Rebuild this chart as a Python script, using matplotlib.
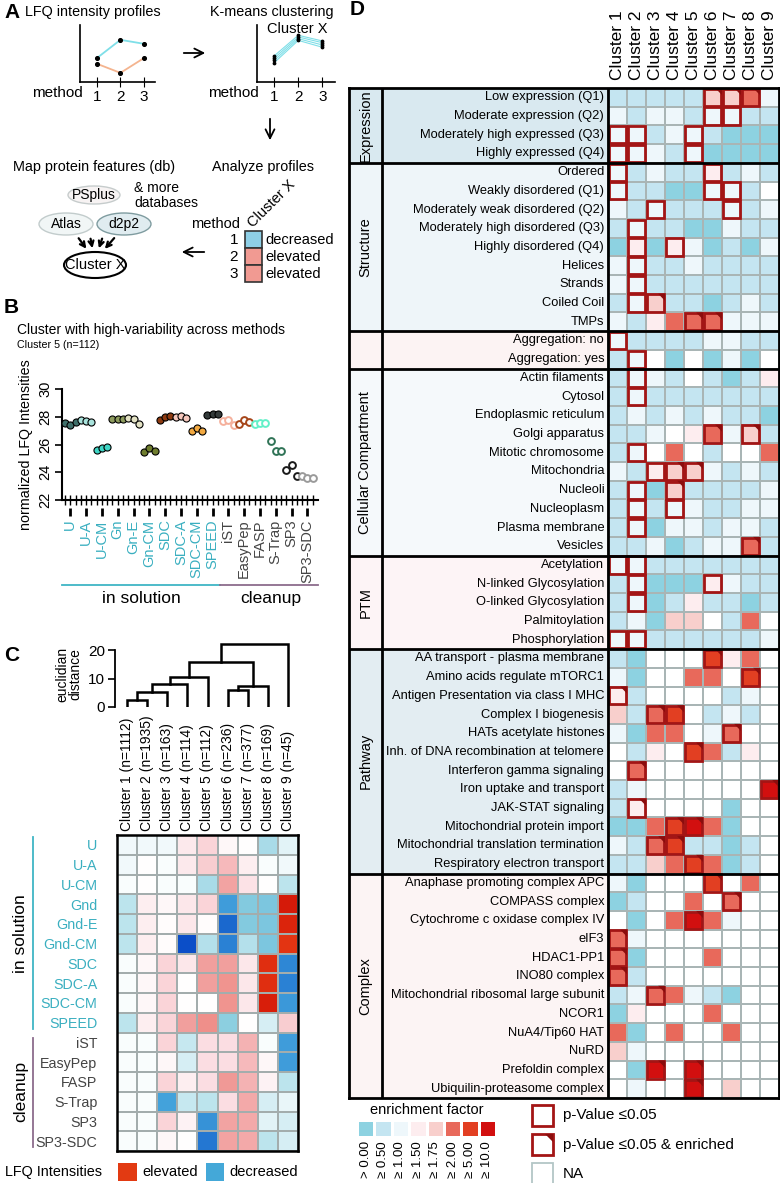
import numpy as np
import matplotlib
matplotlib.use("Agg")
import matplotlib.pyplot as plt
from matplotlib.patches import Rectangle, Ellipse, Polygon
from matplotlib.colors import LinearSegmentedColormap, ListedColormap, BoundaryNorm

plt.rcParams['font.family'] = ['Liberation Sans', 'DejaVu Sans']

# ---------------- panel A (schematic) ----------------
toy_methods = [1, 2, 3]
toy_up = [0.42, 0.74, 0.67]
toy_down = [0.32, 0.16, 0.42]
toy_cluster = [[0.46, 0.82, 0.72], [0.42, 0.79, 0.69],
               [0.38, 0.76, 0.65], [0.34, 0.73, 0.61]]
toy_states = ['decreased', 'elevated', 'elevated']
state_colors = {'decreased': '#8ecfe6', 'elevated': '#f19a92'}

# ---------------- panel B ----------------
methods_b = ['U', 'U-A', 'U-CM', 'Gn', 'Gn-E', 'Gn-CM', 'SDC', 'SDC-A', 'SDC-CM',
             'SPEED', 'iST', 'EasyPep', 'FASP', 'S-Trap', 'SP3', 'SP3-SDC']
lfq_b = [[27.54, 27.42, 27.59], [27.74, 27.66, 27.64], [25.62, 25.78, 25.81],
         [27.86, 27.86, 27.86], [27.90, 27.83, 27.47], [25.45, 25.78, 25.54],
         [27.78, 27.98, 28.07], [27.98, 28.02, 27.90], [26.94, 27.18, 26.99],
         [28.10, 28.19, 28.19], [27.70, 27.73, 27.42], [27.50, 27.74, 27.59],
         [27.50, 27.54, 27.54], [26.27, 25.54, 25.54], [24.17, 24.50, 23.76],
         [23.70, 23.55, 23.55]]
colors_b = ['#3f6f6a', '#a9e3dc', '#3fd6c6', '#8e9c5e', '#e3e2c4', '#6f7d2e',
            '#8e3a10', '#f6c8bd', '#f2a941', '#333a3a', '#f5b09c', '#a6461a',
            '#63f0c8', '#2f7356', '#1a1a1a', '#9a9a9a']
n_solution = 10

# ---------------- panel C ----------------
clusters_n = [1112, 1935, 163, 114, 112, 236, 377, 169, 45]
# merges: (left node, right node, height); new node ids start at 9
dendro_merges = [(0, 1, 2.5), (9, 2, 5.1), (10, 3, 8.0), (11, 4, 10.4),
                 (5, 6, 6.0), (13, 7, 7.5), (12, 14, 15.7), (15, 8, 22.0)]
methods_c = ['U', 'U-A', 'U-CM', 'Gnd', 'Gnd-E', 'Gnd-CM', 'SDC', 'SDC-A', 'SDC-CM',
             'SPEED', 'iST', 'EasyPep', 'FASP', 'S-Trap', 'SP3', 'SP3-SDC']
lfq_c = [
    [-0.1, -0.1, -0.1, 0.25, 0.5, 0.1, 0.0, -0.7, -0.2],
    [-0.1, 0.0, -0.05, 0.25, 0.6, 0.8, 0.2, -0.05, -0.1],
    [-0.05, 0.0, -0.05, -0.05, -0.7, 1.1, 0.35, 0.0, -0.5],
    [-0.5, 0.2, 0.1, 0.3, 0.5, -2.0, -1.1, -1.2, 3.0],
    [-0.5, 0.2, 0.05, 0.3, 0.05, -3.0, -1.1, -1.2, 2.8],
    [-0.5, 0.2, 0.05, -3.5, -0.6, -2.5, -0.6, -1.2, 2.5],
    [-0.05, 0.1, 0.5, 0.3, 1.2, 1.2, 0.3, 2.6, -2.4],
    [-0.05, 0.1, 0.5, 0.0, 1.2, 1.4, 0.3, 2.6, -2.5],
    [-0.05, 0.1, 0.5, 0.0, 0.0, 1.4, 0.3, 2.9, -2.1],
    [-0.5, 0.2, 0.5, 1.2, 1.5, -1.0, 0.0, -0.3, 0.6],
    [-0.05, -0.05, 0.5, -0.4, 0.4, 0.4, 0.9, -0.05, -2.0],
    [-0.05, -0.05, 0.1, -0.3, 0.4, 0.4, 0.8, 0.1, -2.0],
    [-0.05, -0.05, 0.5, 0.2, 0.4, 1.3, 0.9, 0.15, -0.5],
    [-0.05, -0.05, -1.9, -0.4, -0.5, 0.4, 1.0, -0.3, -0.15],
    [-0.05, -0.05, 0.5, 0.15, -2.2, 1.1, 1.0, -0.2, -0.3],
    [-0.05, -0.05, 0.1, 0.0, -2.7, 1.1, 1.0, -0.5, -0.3],
]

# ---------------- panel D ----------------
d_groups = ['Expression', 'Structure', '', 'Cellular Compartment', 'PTM', 'Pathway', 'Complex']
d_group_sizes = [4, 9, 2, 10, 5, 12, 12]
d_group_bg = ['#d9e9f0', '#eef5f9', '#fcf3f3', '#f5f9fb', '#fdf4f6', '#e3edf2', '#fcf4f4']
d_rows = [
    'Low expression (Q1)', 'Moderate expression (Q2)', 'Moderately high expressed (Q3)',
    'Highly expressed (Q4)',
    'Ordered', 'Weakly disordered (Q1)', 'Moderately weak disordered (Q2)',
    'Moderately high disordered (Q3)', 'Highly disordered (Q4)', 'Helices', 'Strands',
    'Coiled Coil', 'TMPs',
    'Aggregation: no', 'Aggregation: yes',
    'Actin filaments', 'Cytosol', 'Endoplasmic reticulum', 'Golgi apparatus',
    'Mitotic chromosome', 'Mitochondria', 'Nucleoli', 'Nucleoplasm', 'Plasma membrane',
    'Vesicles',
    'Acetylation', 'N-linked Glycosylation', 'O-linked Glycosylation', 'Palmitoylation',
    'Phosphorylation',
    'AA transport - plasma membrane', 'Amino acids regulate mTORC1',
    'Antigen Presentation via class I MHC', 'Complex I biogenesis',
    'HATs acetylate histones', 'Inh. of DNA recombination at telomere',
    'Interferon gamma signaling', 'Iron uptake and transport', 'JAK-STAT signaling',
    'Mitochondrial protein import', 'Mitochondrial translation termination',
    'Respiratory electron transport',
    'Anaphase promoting complex APC', 'COMPASS complex', 'Cytochrome c oxidase complex IV',
    'eIF3', 'HDAC1-PP1', 'INO80 complex', 'Mitochondrial ribosomal large subunit', 'NCOR1',
    'NuA4/Tip60 HAT', 'NuRD', 'Prefoldin complex', 'Ubiquilin-proteasome complex',
]
# enrichment level 0..7 (see d_level_labels), -1 = NA
d_levels = [
    [1, 1, 1, 1, 1, 4, 4, 5, 2], [2, 1, 2, 2, 1, 2, 2, 1, 1],
    [2, 2, 1, 2, 2, 1, 0, 0, 0], [2, 2, 2, 1, 2, 0, 0, 0, 0],
    [2, 1, 2, 1, 1, 3, 1, 2, 1], [2, 1, 1, 0, 0, 2, 2, 1, -1],
    [2, 1, 2, 1, 1, 1, 2, 1, 2], [1, 2, 1, 1, 0, 0, 2, 1, 1],
    [0, 3, 0, 3, 2, 0, 1, 0, 2], [2, 2, 1, 1, 2, 1, 1, 1, 1],
    [2, 2, 1, 1, 1, 1, 1, 1, 1], [1, 2, 4, 1, 1, 0, 1, 2, 1],
    [2, 1, 3, 5, 5, 5, 2, 2, 2],
    [2, 1, 1, 1, 1, 2, 2, 1, 1], [1, 2, -1, 0, -1, 0, 2, 0, -1],
    [1, 2, 2, 1, -1, 1, 0, 1, 3], [1, 2, 1, 1, 1, 1, 1, 1, 1],
    [1, 2, 1, 2, 1, 2, 1, 1, 0], [1, 1, 2, -1, 3, 5, 2, 4, 1],
    [1, 2, -1, 5, -1, 1, -1, -1, 5], [2, 1, 3, 4, 4, 2, 1, 2, 1],
    [1, 2, 0, 4, 1, 1, 1, 1, 2], [1, 2, 1, 2, 2, 1, 1, 2, 2],
    [1, 2, 0, 2, 2, 1, 2, 2, 1], [1, 1, 2, 0, 1, 2, 2, 5, 1],
    [2, 2, 1, 1, 1, 1, 1, 1, 1], [1, 2, 0, 0, 0, 3, 2, 1, 1],
    [1, 2, 0, 1, 3, 1, 1, 0, 1], [1, 2, 0, 4, 4, -1, 1, 5, -1],
    [2, 2, 1, 1, 1, 1, 1, 1, 2],
    [1, 0, -1, -1, -1, 6, 3, 5, -1], [2, 0, -1, -1, 5, 5, -1, 6, -1],
    [3, 1, -1, -1, -1, -1, 1, 2, -1], [4, 1, 5, 6, -1, 1, 2, 1, -1],
    [2, 0, 5, 5, -1, 2, 5, -1, -1], [-1, 1, 3, -1, 6, 5, 1, 3, -1],
    [-1, 5, -1, -1, -1, -1, -1, -1, -1], [1, 2, -1, -1, -1, -1, -1, -1, 7],
    [1, 3, -1, -1, -1, -1, 0, -1, -1], [0, 0, 5, 6, 7, 5, 0, -1, -1],
    [2, 1, 5, 6, 1, 1, 0, 1, -1], [1, 1, 4, 5, 6, 5, 0, 1, -1],
    [2, 0, -1, -1, -1, 6, -1, 5, -1], [0, 1, -1, -1, 5, -1, 5, -1, -1],
    [-1, 0, -1, 5, 7, 5, 2, -1, -1], [5, 2, -1, -1, -1, -1, -1, -1, -1],
    [5, 0, -1, -1, -1, 5, -1, -1, -1], [5, 1, -1, -1, -1, -1, -1, -1, -1],
    [1, 2, 5, 5, 2, 1, 0, -1, -1], [0, 3, -1, -1, -1, 5, -1, -1, -1],
    [5, 0, -1, 5, -1, -1, 5, -1, -1], [4, 2, -1, -1, -1, -1, -1, -1, -1],
    [-1, 0, 7, -1, 7, -1, -1, -1, -1], [-1, 2, -1, -1, 7, -1, 4, -1, -1],
]
# b = p-value <= 0.05, t = p-value <= 0.05 & enriched
d_marks = [
    '.....ttt.', '.....bb..', 'bb..b....', 'bb..b....',
    'b....b...', 'b....bb..', '..b...b..', '.b.......', '.b.b.....', '.b.......',
    '.b.......', '.bt......', '....tt...',
    'b........', '.b.......',
    '.b.......', '.b.......', '.........', '.....t.t.', '.b.......', '..btt....',
    '.b.t.....', '.b.b.....', '.b.......', '.......t.',
    'bb.......', '.b...b...', '.b.......', '.........', 'bb.......',
    '.....t...', '.......t.', 't........', '..tt.....', '......t..', '....t....',
    '.t.......', '........t', '.t.......', '...tt....', '..tt.....', '....t....',
    '.....t...', '......t..', '....t....', 't........', 't........', 't........',
    '..t......', '.........', '.........', '.........', '..t.t....', '....t....',
]
d_level_labels = ['> 0.00', '≥ 0.50', '≥ 1.00', '≥ 1.50', '≥ 1.75', '≥ 2.00', '≥ 5.00', '≥ 10.0']
d_level_colors = ['#8dd2e1', '#c4e5f1', '#eef7fb', '#fdedef', '#f8cfcc', '#e8695b', '#e23f22', '#d20f0f']

W, H = 780, 1183
fig = plt.figure(figsize=(W / 100, H / 100), dpi=100)


def px_axes(x0, y0, x1, y1):
    ax = fig.add_axes([x0 / W, 1 - y1 / H, (x1 - x0) / W, (y1 - y0) / H])
    ax.patch.set_alpha(0)
    return ax


cv = px_axes(0, 0, W, H)
cv.set_xlim(0, W)
cv.set_ylim(H, 0)
cv.axis('off')

MARK = '#a31515'
arrow = dict(arrowstyle='->', lw=1.3, color='black', mutation_scale=16)

# ================= A =================
cv.text(4, 12, 'A', fontsize=15, fontweight='bold', va='center')
cv.text(25, 12, 'LFQ intensity profiles', fontsize=10.4, va='center')
cv.text(210, 12, 'K-means clustering', fontsize=10.4, va='center')

ax_a1 = px_axes(80, 25, 155, 82)
ax_a1.plot(toy_methods, toy_up, color='#7fdfe8', lw=1.3)
ax_a1.plot(toy_methods, toy_down, color='#f4b48f', lw=1.3)
ax_a1.scatter(toy_methods * 2, toy_up + toy_down, s=7, color='black', zorder=3)
ax_a1.set_xlim(0.28, 3.47)

ax_a2 = px_axes(257, 25, 335, 82)
for prof in toy_cluster:
    ax_a2.plot(toy_methods, prof, color='#7fdfe8', lw=0.8)
    ax_a2.scatter(toy_methods, prof, s=3, color='black', zorder=3)
ax_a2.set_xlim(0.28, 3.53)
for ax in (ax_a1, ax_a2):
    ax.set_ylim(0, 1)
    ax.set_yticks([])
    ax.set_xticks(toy_methods)
    ax.tick_params(axis='x', direction='inout', length=7, labelsize=11, pad=2)
    for s in ('top', 'right'):
        ax.spines[s].set_visible(False)
    for s in ('left', 'bottom'):
        ax.spines[s].set_linewidth(1.2)
cv.text(83, 93, 'method', fontsize=11, ha='right', va='center')
cv.text(259, 93, 'method', fontsize=11, ha='right', va='center')
cv.text(297, 29, 'Cluster X', fontsize=10.5, ha='center', va='center')

cv.annotate('', xy=(208, 53), xytext=(181, 53), arrowprops=arrow)
cv.annotate('', xy=(270, 143), xytext=(270, 116), arrowprops=arrow)
cv.annotate('', xy=(179, 252), xytext=(207, 252), arrowprops=arrow)

cv.text(212, 167, 'Analyze profiles', fontsize=10.4, va='center')
cv.text(272, 204, 'Cluster X', fontsize=10.5, rotation=45, ha='center', va='center')
cv.text(240, 224, 'method', fontsize=10.5, ha='right', va='center')
for k, st in enumerate(toy_states):
    y0 = 231 + k * 17.2
    cv.add_patch(Rectangle((245, y0), 17, 16.5, fc=state_colors[st], ec='#333333', lw=1.2))
    cv.text(238, y0 + 8.5, str(toy_methods[k]), fontsize=11, ha='right', va='center')
    cv.text(265, y0 + 8.5, st, fontsize=10.5, ha='left', va='center')

cv.text(13, 167, 'Map protein features (db)', fontsize=10.4, va='center')
cv.add_patch(Ellipse((94, 195), 52, 18, fc='#f7f3f3', ec='#c6cccc', lw=1))
cv.add_patch(Ellipse((66, 224), 54, 22, fc='#f1f6f6', ec='#c2cccc', lw=1))
cv.add_patch(Ellipse((124, 224), 54, 22, fc='#e0ecf0', ec='#7f9ca0', lw=1))
cv.text(94, 195, 'PSplus', fontsize=10, ha='center', va='center')
cv.text(66, 224, 'Atlas', fontsize=10, ha='center', va='center')
cv.text(124, 224, 'd2p2', fontsize=10, ha='center', va='center')
cv.text(134, 188, '& more', fontsize=10, va='center')
cv.text(134, 203, 'databases', fontsize=10, va='center')
small_arrow = dict(arrowstyle='->', lw=1.6, color='black', mutation_scale=9)
for xs, xe in [(77, 88), (90, 93), (103, 98), (116, 103)]:
    cv.annotate('', xy=(xe, 251), xytext=(xs, 236), arrowprops=small_arrow)
cv.add_patch(Ellipse((95, 265), 62, 26, fc='white', ec='black', lw=1.5))
cv.text(95, 265, 'Cluster X', fontsize=10.5, ha='center', va='center')

# ================= B =================
cv.text(4, 307, 'B', fontsize=15, fontweight='bold', va='center')
cv.text(17, 330, 'Cluster with high-variability across methods', fontsize=10, va='center')
cv.text(17, 345, 'Cluster 5 (n=112)', fontsize=7.7, va='center')

ax_b = px_axes(62, 389, 318, 500)
positions = []
for i, (vals, col) in enumerate(zip(lfq_b, colors_b)):
    xs = [3 * i + k + 1 for k in range(3)]
    positions += xs
    if i < n_solution:
        ax_b.scatter(xs, vals, s=26, facecolor=col, edgecolor='black', lw=0.8, zorder=3)
    else:
        ax_b.scatter(xs, vals, s=24, facecolor='white', edgecolor=col, lw=1.4, zorder=3)
ax_b.set_xlim(0.43, 49.0)
ax_b.set_ylim(22, 30)
ax_b.set_yticks([22, 24, 26, 28, 30])
ax_b.set_yticklabels(['22', '24', '26', '28', '30'], rotation=90, va='center', fontsize=10.5)
ax_b.set_xticks(positions)
ax_b.set_xticklabels([])
ax_b.tick_params(axis='x', direction='inout', length=7, width=1)
ax_b.tick_params(axis='y', direction='out', length=5, width=1.2, pad=2)
ax_b.set_ylabel('normalized LFQ Intensities', fontsize=10.3, labelpad=4)
for s in ('top', 'right'):
    ax_b.spines[s].set_visible(False)
for s in ('left', 'bottom'):
    ax_b.spines[s].set_linewidth(1.5)
sec = ax_b.secondary_xaxis(-0.075)
sec.spines['bottom'].set_visible(False)
centers = [3 * i + 2 for i in range(len(methods_b))]
sec.set_xticks(centers)
sec.set_xticklabels(methods_b, rotation=90, fontsize=10.5)
sec.tick_params(length=6, width=2, pad=2)
for i, lbl in enumerate(sec.get_xticklabels()):
    lbl.set_color('#3aafc0' if i < n_solution else '#444444')
btr = ax_b.get_xaxis_transform()
n_sol_pts = 3 * n_solution
ax_b.plot([positions[0] - 0.5, positions[n_sol_pts - 1] + 0.5], [-0.77, -0.77],
          color='#3fb5c5', lw=1.3, transform=btr, clip_on=False)
ax_b.plot([positions[n_sol_pts] - 0.5, positions[-1] + 1], [-0.77, -0.77],
          color='#8c6c8c', lw=1.3, transform=btr, clip_on=False)
ax_b.text((positions[0] + positions[n_sol_pts - 1]) / 2, -0.89, 'in solution', fontsize=12.5,
          ha='center', va='center', transform=btr)
ax_b.text((positions[n_sol_pts] + positions[-1]) / 2 + 0.5, -0.89, 'cleanup', fontsize=12.5,
          ha='center', va='center', transform=btr)

# ================= C =================
cv.text(4, 655, 'C', fontsize=15, fontweight='bold', va='center')
ax_dn = px_axes(115, 641, 298, 707)
node_x = {i: i + 0.5 for i in range(9)}
node_h = {i: 0.0 for i in range(9)}
for k, (a, b, h) in enumerate(dendro_merges):
    xa, xb = node_x[a], node_x[b]
    ax_dn.plot([xa, xa, xb, xb], [node_h[a], h, h, node_h[b]], color='black', lw=1.8,
               solid_joinstyle='miter')
    node_x[9 + k] = (xa + xb) / 2
    node_h[9 + k] = h
ax_dn.set_xlim(-2 / 20.1, 9)
ax_dn.set_ylim(0, 66 / 2.85)
ax_dn.set_xticks([])
ax_dn.set_yticks([0, 10, 20])
ax_dn.tick_params(axis='y', labelsize=11, length=5, width=1.2, pad=2)
for s in ('top', 'right', 'bottom'):
    ax_dn.spines[s].set_visible(False)
ax_dn.spines['left'].set_linewidth(1.3)
ax_dn.spines['left'].set_bounds(0, 20)
ax_dn.set_ylabel('euclidian\ndistance', fontsize=10, labelpad=4, linespacing=0.95)

c_cmap = LinearSegmentedColormap.from_list('lfq', [
    (0.0, '#0b4ec8'), (1 / 7, '#2a82d4'), (1.7 / 7, '#48a8dc'), (2.5 / 7, '#8ccfe0'),
    (3.1 / 7, '#c6e8f0'), (0.5, '#ffffff'), (3.9 / 7, '#fbdde2'), (4.5 / 7, '#f3a9a9'),
    (5.1 / 7, '#ee8a84'), (5.9 / 7, '#e63a14'), (1.0, '#c80000')])
ax_c = px_axes(117, 835, 298, 1151)
ax_c.pcolormesh(np.array(lfq_c), cmap=c_cmap, vmin=-3.5, vmax=3.5,
                edgecolors='#a3adad', linewidth=1.3)
ax_c.set_xlim(0, 9)
ax_c.set_ylim(len(methods_c), 0)
ax_c.xaxis.tick_top()
ax_c.set_xticks(np.arange(9) + 0.5)
ax_c.set_xticklabels([f'Cluster {i + 1} (n={n})' for i, n in enumerate(clusters_n)],
                     rotation=90, fontsize=10)
ax_c.set_yticks(np.arange(len(methods_c)) + 0.5)
ax_c.set_yticklabels(methods_c, fontsize=10.3)
ax_c.tick_params(length=0)
ax_c.tick_params(axis='y', pad=14)
ax_c.tick_params(axis='x', pad=3)
for i, lbl in enumerate(ax_c.get_yticklabels()):
    lbl.set_color('#3aafc0' if i < n_solution else '#444444')
for s in ax_c.spines.values():
    s.set_linewidth(1.8)
c_top, c_row = 835, (1151 - 835) / len(methods_c)
y_split = c_top + n_solution * c_row
cv.plot([33, 33], [c_top + 2, y_split - 4], color='#3fb5c5', lw=1.3)
cv.plot([33, 33], [y_split + 5, 1147], color='#8c6c8c', lw=1.3)
cv.text(21, (c_top + y_split) / 2, 'in solution', fontsize=12.5, rotation=90, ha='center', va='center')
cv.text(21, (y_split + 1151) / 2, 'cleanup', fontsize=12.5, rotation=90, ha='center', va='center')

cv.text(5, 1172, 'LFQ Intensities', fontsize=10.4, va='center')
cv.add_patch(Rectangle((118, 1163), 19, 18, fc='#e23a12', ec='none'))
cv.text(142, 1172, 'elevated', fontsize=10.5, va='center')
cv.add_patch(Rectangle((206, 1163), 18, 18, fc='#44a8d8', ec='none'))
cv.text(229, 1172, 'decreased', fontsize=10.5, va='center')

# ================= D =================
cv.text(350, 9, 'D', fontsize=15, fontweight='bold', va='center')
cell_w = (779 - 608) / 9
left = (608 - 349) / cell_w
grp_w = 33 / cell_w
n_rows = len(d_rows)
ax_d = px_axes(349, 88, 779, 1098)
ax_d.set_xlim(-left, 9)
ax_d.set_ylim(n_rows, 0)

lev = np.array(d_levels)
lev_plot = np.where(lev < 0, 8, lev)
d_cmap = ListedColormap(d_level_colors + ['#ffffff'])
ax_d.pcolormesh(np.arange(10), np.arange(n_rows + 1), lev_plot, cmap=d_cmap,
                norm=BoundaryNorm(np.arange(-0.5, 9.5), 9),
                edgecolors='#a9b5b5', linewidth=1.2)

start = 0
for name, size, bg in zip(d_groups, d_group_sizes, d_group_bg):
    ax_d.add_patch(Rectangle((-left, start), left, size, fc=bg, ec='none', zorder=0))
    ax_d.text(-left + grp_w / 2, start + size / 2, name, rotation=90, fontsize=10.5,
              ha='center', va='center')
    if start > 0:
        ax_d.axhline(start, color='black', lw=2, zorder=5)
    start += size
ax_d.axvline(0, color='black', lw=2, zorder=5)
ax_d.axvline(-left + grp_w, color='black', lw=2, zorder=5)
for i, lbl in enumerate(d_rows):
    ax_d.text(-0.2, i + 0.5, lbl, fontsize=9.3, ha='right', va='center')

for i, row in enumerate(d_marks):
    for j, m in enumerate(row):
        if m == '.':
            continue
        ax_d.add_patch(Rectangle((j + 0.04, i + 0.04), 0.92, 0.92, fill=False,
                                 ec=MARK, lw=2, zorder=4))
        if m == 't':
            ax_d.add_patch(Polygon([(j + 1, i), (j + 0.64, i), (j + 1, i + 0.38)],
                                   closed=True, fc='#8b0d0d', ec='none', zorder=4))

ax_d.xaxis.tick_top()
ax_d.set_xticks(np.arange(9) + 0.5)
ax_d.set_xticklabels([f'Cluster {i + 1}' for i in range(9)], rotation=90, fontsize=12.5)
ax_d.set_yticks([])
ax_d.tick_params(length=0, pad=6)
for s in ax_d.spines.values():
    s.set_linewidth(2)
    s.set_zorder(6)

# legend D
cv.text(427, 1110, 'enrichment factor', fontsize=10.5, ha='center', va='center')
ax_leg = px_axes(357, 1120, 496, 1137)
ax_leg.pcolormesh(np.arange(9), [0, 1], np.arange(8)[None, :], cmap=ListedColormap(d_level_colors),
                  vmin=-0.5, vmax=7.5, edgecolors='white', linewidth=0.8)
ax_leg.set_xlim(0, 8)
ax_leg.set_ylim(0, 1)
ax_leg.set_yticks([])
ax_leg.set_xticks(np.arange(8) + 0.5)
ax_leg.set_xticklabels(d_level_labels, rotation=90, fontsize=9.5)
ax_leg.tick_params(length=0, pad=3)
for s in ax_leg.spines.values():
    s.set_visible(False)

legend_items = [('p-Value ≤0.05', MARK, False), ('p-Value ≤0.05 & enriched', MARK, True),
                ('NA', '#b3c6c6', False)]
for k, (txt, ec, tri) in enumerate(legend_items):
    y0 = 1105 + k * 29
    cv.add_patch(Rectangle((532, y0), 21, 21, fc='white', ec=ec, lw=2 if k < 2 else 1.3))
    if tri:
        cv.add_patch(Polygon([(553, y0), (545, y0), (553, y0 + 8)], closed=True,
                             fc='#8b0d0d', ec='none'))
    cv.text(563, y0 + 10.5, txt, fontsize=11, va='center')

fig.savefig('out.png', dpi=100)
